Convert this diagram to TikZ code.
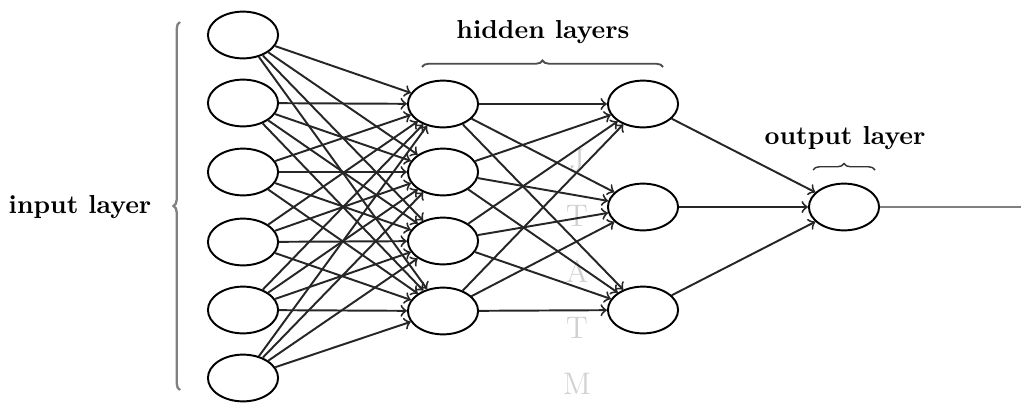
\documentclass[tikz,border=0pt]{standalone}
\usetikzlibrary{shapes.geometric}
\usetikzlibrary{decorations.pathreplacing}

\begin{document}
\begin{tikzpicture}[
    x=0.385pt, y=-0.385pt,
    neuron/.style = {draw, ellipse, line width=0.75pt, minimum width=27pt, minimum height=18pt, inner sep=0pt},
    link/.style = {->, line width=0.75pt, black!85},
    layerbrace/.style = {decorate, decoration={brace, amplitude=2.5pt}, gray, line width=0.9pt},
    layer label/.style = {font=\bfseries}
  ]
  \useasboundingbox (0,0) rectangle (1021,405);

  % faint mark behind the links
  \node[text=black!18, align=center, font=\fontsize{12}{21.6}\selectfont] (watermark) at (577,272) {J\\T\\A\\T\\M};

  \node[neuron] (in1) at (243,35) {};
  \node[neuron] (in2) at (243,103) {};
  \node[neuron] (in3) at (243,172) {};
  \node[neuron] (in4) at (243,242) {};
  \node[neuron] (in5) at (243,310) {};
  \node[neuron] (in6) at (243,378) {};

  \node[neuron] (hid1) at (443,104) {};
  \node[neuron] (hid2) at (443,172) {};
  \node[neuron] (hid3) at (443,241) {};
  \node[neuron] (hid4) at (443,311) {};

  \node[neuron] (mid1) at (643,104) {};
  \node[neuron] (mid2) at (643,207) {};
  \node[neuron] (mid3) at (643,310) {};

  \node[neuron] (output) at (844,207) {};
  \coordinate (output end) at (1021,207);

  \foreach \i in {1,...,6}
    \foreach \j in {1,...,4}
      \draw[link] (in\i) -- (hid\j);
  \foreach \i in {1,...,4}
    \foreach \j in {1,...,3}
      \draw[link] (hid\i) -- (mid\j);
  \foreach \i in {1,...,3}
    \draw[link] (mid\i) -- (output);
  \draw[line width=0.8pt, gray] (output) -- (output end);

  \coordinate (input brace bottom) at (180,390);
  \coordinate (input brace top) at (180,22);
  \draw[layerbrace] (input brace bottom) -- (input brace top);
  \node[layer label] (input label) at (80,207) {input layer};

  \coordinate (hidden brace left) at (422,67);
  \coordinate (hidden brace right) at (663,67);
  \draw[layerbrace, black!70, line width=0.7pt] (hidden brace left) -- (hidden brace right);
  \node[layer label] (hidden label) at (543,32) {hidden layers};

  \coordinate (output brace left) at (813,170);
  \coordinate (output brace right) at (875,170);
  \draw[layerbrace, black!80, line width=0.55pt] (output brace left) -- (output brace right);
  \node[layer label] (output label) at (845,138) {output layer};
\end{tikzpicture}
\end{document}
